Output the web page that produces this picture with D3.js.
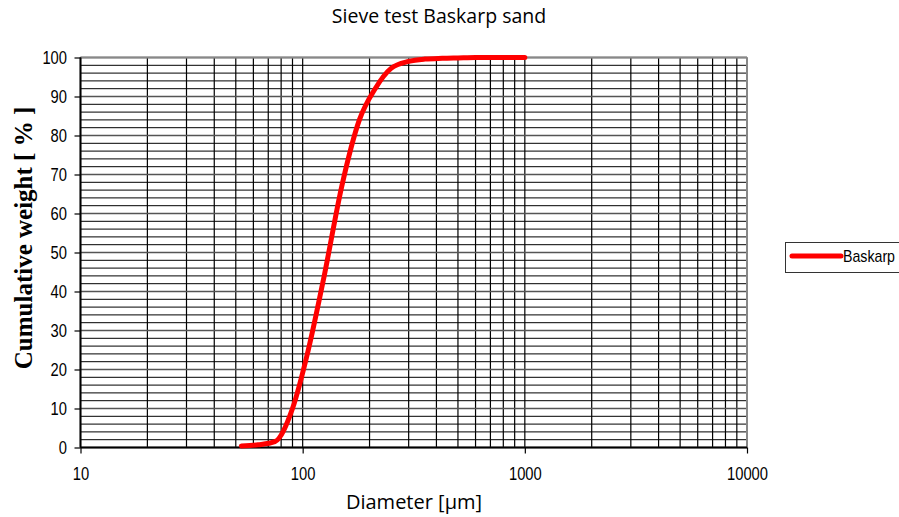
<!DOCTYPE html>
<html>
<head>
<meta charset="utf-8">
<script src="https://cdn.jsdelivr.net/npm/d3@7/dist/d3.min.js"></script>
<style>
  html, body { margin: 0; padding: 0; background: #fff; }
  svg { display: block; }
</style>
</head>
<body>
<svg id="chart" width="899" height="517"></svg>
<script>
// Sieve analysis: cumulative passing weight per sieve opening
const sieveSizes = [53, 63, 75, 90, 106, 125, 150, 180, 212, 250, 300, 355, 425, 500, 600, 710, 850, 1000];
const cumulativeWeight = [0.4, 0.7, 1.5, 10, 25, 44, 67, 84, 92, 97.2, 99, 99.6, 99.8, 99.9, 100, 100, 100, 100];
const seriesName = "Baskarp";
const xTickValues = [10, 100, 1000, 10000];
const yTickValues = [0, 10, 20, 30, 40, 50, 60, 70, 80, 90, 100];

const svg = d3.select("#chart");
const plot = { left: 80.5, right: 747, top: 57.5, bottom: 447.5 };

const x = d3.scaleLog().domain([10, 10000]).range([plot.left, plot.right]);
const y = d3.scaleLinear().domain([0, 100]).range([plot.bottom, plot.top]);

const narrowFont = "'Liberation Sans Narrow', 'Liberation Sans', Arial, sans-serif";
const digitWidth = 8.2;

// Minor log gridlines (1..9 per decade)
const vLines = [];
for (let dec = 10; dec < 10000; dec *= 10) {
  for (let m = 1; m <= 9; m++) vLines.push(dec * m);
}
vLines.push(10000);

const grid = svg.append("g").attr("class", "grid");
grid.selectAll("line.v").data(vLines).join("line")
  .attr("class", "v")
  .attr("x1", d => x(d)).attr("x2", d => x(d))
  .attr("y1", plot.top).attr("y2", plot.bottom)
  .attr("stroke", "#000").attr("stroke-width", 1.2);

// Horizontal gridlines every 2 %
const hLines = d3.range(0, 101, 2);
grid.selectAll("line.h").data(hLines).join("line")
  .attr("class", "h")
  .attr("x1", plot.left).attr("x2", plot.right)
  .attr("y1", d => y(d)).attr("y2", d => y(d))
  .attr("stroke", "#000").attr("stroke-width", 1);

// Heavier lines at each 10 %
grid.selectAll("line.hm").data(yTickValues).join("line")
  .attr("class", "hm")
  .attr("x1", plot.left).attr("x2", plot.right)
  .attr("y1", d => y(d)).attr("y2", d => y(d))
  .attr("stroke", "#555").attr("stroke-width", 1.5);

// Frame top/right
svg.append("line").attr("x1", plot.left).attr("x2", plot.right)
  .attr("y1", plot.top).attr("y2", plot.top).attr("stroke", "#888").attr("stroke-width", 2);
svg.append("line").attr("x1", plot.right).attr("x2", plot.right)
  .attr("y1", plot.top).attr("y2", plot.bottom).attr("stroke", "#888").attr("stroke-width", 2);

// Axes
const xAxis = d3.axisBottom(x).tickValues(xTickValues).tickFormat(d3.format("d")).tickSize(6).tickPadding(14);
const yAxis = d3.axisLeft(y).tickValues(yTickValues).tickSize(6).tickPadding(7.5);

const gx = svg.append("g").attr("transform", `translate(0,${plot.bottom})`).call(xAxis);
const gy = svg.append("g").attr("transform", `translate(${plot.left},0)`).call(yAxis);
[gx, gy].forEach(g => {
  g.select(".domain").attr("stroke", "#000").attr("stroke-width", 2);
  g.selectAll(".tick line").attr("stroke", "#000").attr("stroke-width", 1.2);
  g.selectAll(".tick text").attr("fill", "#000")
    .style("font-family", narrowFont).style("font-size", "17.5px")
    .attr("textLength", function () { return this.textContent.length * digitWidth; })
    .attr("lengthAdjust", "spacingAndGlyphs");
});
gx.select(".domain").attr("d", `M${plot.left},0H${plot.right}`);
gy.select(".domain").attr("d", `M0,${plot.top}V${plot.bottom}`);

// Curve, smoothed in screen (log) space
const pts = sieveSizes.map((s, i) => [x(s), y(cumulativeWeight[i])]);
svg.append("path")
  .datum(pts)
  .attr("d", d3.line().curve(d3.curveMonotoneX))
  .attr("fill", "none")
  .attr("stroke", "#ff0000")
  .attr("stroke-width", 5)
  .attr("stroke-linejoin", "round")
  .attr("stroke-linecap", "round");

// Title
svg.append("text")
  .attr("x", 439).attr("y", 23)
  .attr("text-anchor", "middle")
  .style("font-family", "'Open Sans', sans-serif").style("font-size", "19.5px")
  .text("Sieve test Baskarp sand");

// Axis titles
svg.append("text")
  .attr("x", 414).attr("y", 509)
  .attr("text-anchor", "middle")
  .style("font-family", "'Open Sans', sans-serif").style("font-size", "20px")
  .text("Diameter [µm]");

svg.append("text")
  .attr("transform", `translate(32,238) rotate(-90)`)
  .attr("text-anchor", "middle")
  .style("font-family", "'Liberation Serif', 'Times New Roman', serif")
  .style("font-size", "25px").style("font-weight", "bold")
  .text("Cumulative weight [ % ]");

// Legend
const lg = svg.append("g").attr("transform", "translate(785,242)");
lg.append("rect").attr("x", 0.5).attr("y", 0.5).attr("width", 130).attr("height", 30)
  .attr("fill", "#fff").attr("stroke", "#333").attr("stroke-width", 1);
lg.append("line").attr("x1", 7).attr("x2", 56).attr("y1", 14).attr("y2", 14)
  .attr("stroke", "#ff0000").attr("stroke-width", 5).attr("stroke-linecap", "round");
lg.append("text").attr("x", 58).attr("y", 20)
  .style("font-family", narrowFont).style("font-size", "17px")
  .attr("textLength", 52).attr("lengthAdjust", "spacingAndGlyphs")
  .text(seriesName);
</script>
</body>
</html>
